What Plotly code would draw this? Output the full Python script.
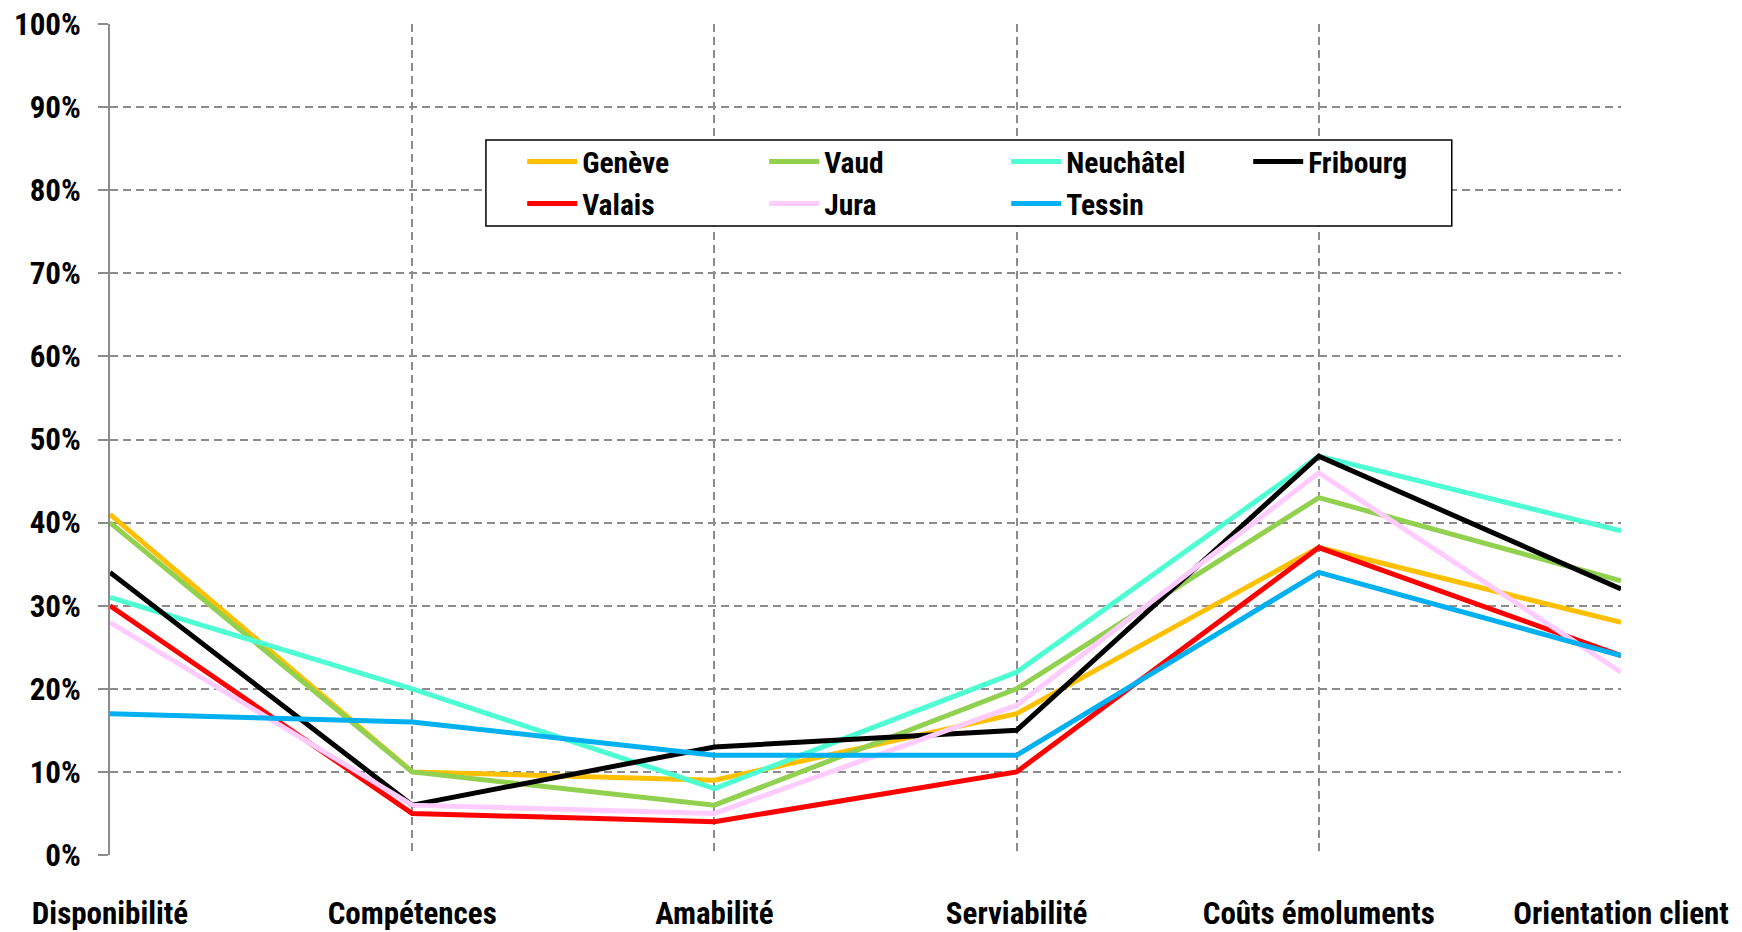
import plotly.graph_objects as go

categories = ["Disponibilité", "Compétences", "Amabilité", "Serviabilité", "Coûts émoluments", "Orientation client"]

geneve = [0.41, 0.10, 0.09, 0.17, 0.37, 0.28]
vaud = [0.40, 0.10, 0.06, 0.20, 0.43, 0.33]
neuchatel = [0.31, 0.20, 0.08, 0.22, 0.48, 0.39]
fribourg = [0.34, 0.06, 0.13, 0.15, 0.48, 0.32]
valais = [0.30, 0.05, 0.04, 0.10, 0.37, 0.24]
jura = [0.28, 0.06, 0.05, 0.18, 0.46, 0.22]
tessin = [0.17, 0.16, 0.12, 0.12, 0.34, 0.24]

series = [
    ("Genève", geneve, "#FFC000", "legend"),
    ("Vaud", vaud, "#92D050", "legend"),
    ("Neuchâtel", neuchatel, "#4DFFD2", "legend"),
    ("Fribourg", fribourg, "#000000", "legend"),
    ("Valais", valais, "#FF0000", "legend2"),
    ("Jura", jura, "#FFCCFF", "legend2"),
    ("Tessin", tessin, "#00B0F0", "legend2"),
]

FONT = "Roboto Condensed, Liberation Sans Narrow, Arial Narrow, sans-serif"
FS_AX = 31
FS_LEG = 29.5

fig = go.Figure()
for name, vals, color, leg in series:
    fig.add_trace(go.Scatter(
        x=categories, y=vals, name=name, mode="lines",
        line=dict(color=color, width=5),
        legend=leg,
    ))

grid_col = "#8C8C8C"
legend_common = dict(
    orientation="h", bgcolor="rgba(0,0,0,0)", borderwidth=0,
    font=dict(family=FONT, size=FS_LEG, color="black", weight="bold"),
    entrywidth=177, entrywidthmode="pixels",
    xanchor="left", yanchor="middle", itemwidth=50,
)

fig.update_layout(
    width=1742, height=932,
    margin=dict(l=110, r=121, t=24, b=77),
    paper_bgcolor="white", plot_bgcolor="white",
    font=dict(family=FONT, size=FS_AX, color="black", weight="bold"),
    showlegend=True,
    legend=dict(x=0.2728, y=0.834, **legend_common),
    legend2=dict(x=0.2728, y=0.7835, **legend_common),
    xaxis=dict(
        type="category", range=[0, 5], automargin=False,
        showgrid=True, gridcolor=grid_col, gridwidth=1.5, griddash="8px,5px",
        showline=False, zeroline=False, ticks="",
        ticklabelstandoff=37, ticklabeloverflow="allow",
        tickfont=dict(family=FONT, size=FS_AX, color="black", weight="bold"),
    ),
    yaxis=dict(
        range=[0, 1], dtick=0.1, tickformat=".0%", automargin=False,
        showgrid=True, gridcolor=grid_col, gridwidth=1.5, griddash="8px,5px",
        zeroline=False, showline=True, linecolor=grid_col, linewidth=2,
        ticks="outside", ticklen=10, tickcolor=grid_col, tickwidth=1.5,
        ticklabelstandoff=11, ticklabeloverflow="allow",
        tickfont=dict(family=FONT, size=FS_AX, color="black", weight="bold"),
    ),
    shapes=[dict(
        type="rect", xref="paper", yref="paper",
        x0=0.2488, x1=0.888, y0=0.757, y1=0.8604,
        line=dict(color="black", width=1.5), fillcolor="white", layer="above",
    )],
)

fig.write_html(
    "out.html",
    config={"displayModeBar": False},
    post_script="document.body.style.margin='0';",
)
